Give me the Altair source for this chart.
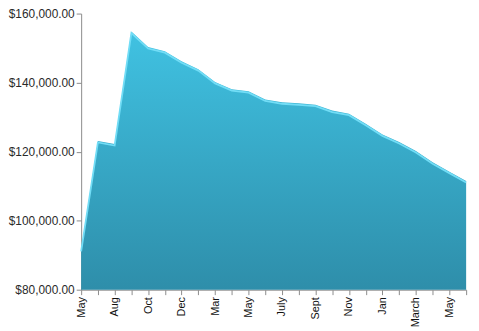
import altair as alt
import pandas as pd

months = ["May", "July", "Aug", "Sept", "Oct", "Nov", "Dec", "Feb", "Mar", "Apr",
          "May", "June", "July", "Aug", "Sept", "Oct", "Nov", "Dec", "Jan", "Feb",
          "March", "April", "May", "June"]
values = [91500, 123100, 122200, 154800, 150300, 149100, 146200, 143900, 140200, 138100,
          137500, 135100, 134300, 134000, 133600, 131900, 131000, 128100, 125000, 122800,
          120200, 116900, 114200, 111500]
y_ticks = [80000, 100000, 120000, 140000, 160000]
y_min, y_max = 80000, 160000

df = pd.DataFrame({"idx": list(range(len(values))), "month": months, "value": values})

label_arr = "[" + ",".join("'" + (m if i % 2 == 0 else "") + "'" for i, m in enumerate(months)) + "]"

x = alt.X("idx:Q",
          scale=alt.Scale(domain=[0, len(values) - 1], nice=False, zero=False),
          axis=alt.Axis(values=list(range(len(values))), labelExpr=label_arr + "[datum.value]",
                        labelAngle=270, labelAlign="right", labelBaseline="middle",
                        labelFont="Liberation Sans", labelFontSize=11, labelColor="#111111",
                        domainColor="#8c8c8c", tickColor="#8c8c8c", tickSize=5,
                        labelPadding=2, grid=False, title=None, labelOverlap=False))
y = alt.Y("value:Q",
          scale=alt.Scale(domain=[y_min, y_max], nice=False, zero=False),
          axis=alt.Axis(values=y_ticks, format="$,.2f", labelFont="Liberation Sans",
                        labelFontSize=12, labelColor="#2a2a2a", domainColor="#8c8c8c",
                        tickColor="#8c8c8c", tickSize=5, grid=False, title=None, labelPadding=2))

area = alt.Chart(df).mark_area(
    color=alt.Gradient(gradient="linear", x1=0, y1=0, x2=0, y2=1,
                       stops=[alt.GradientStop(color="#40C2E2", offset=0),
                              alt.GradientStop(color="#2E8EAA", offset=1)]),
    line=False,
).encode(x=x, y=y, y2=alt.datum(y_min))

edge = alt.Chart(df).mark_line(color="#72DDF6", strokeWidth=1.8, yOffset=1.5).encode(x=x, y=y)

chart = (area + edge).properties(
    width=389, height=279,
    padding={"left": 8, "top": 6, "right": 8, "bottom": 0}
).configure_view(stroke=None)

chart.save("out.html", embed_options={"renderer": "svg", "actions": False})
